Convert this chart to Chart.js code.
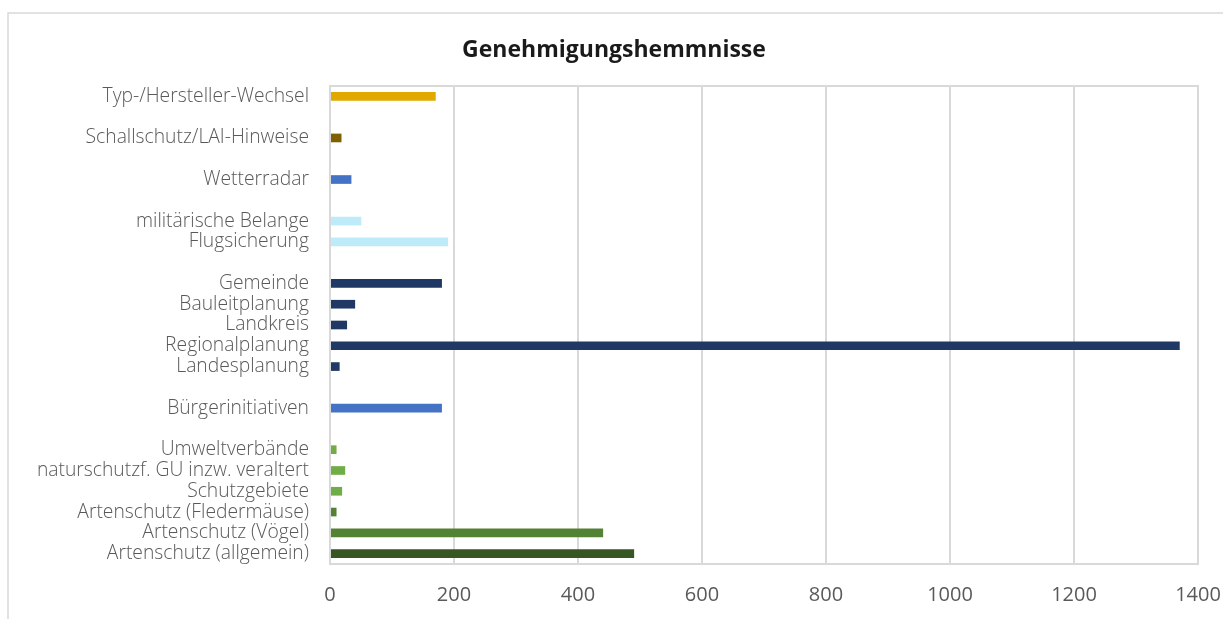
<!DOCTYPE html>
<html>
<head>
<meta charset="utf-8">
<script src="https://cdn.jsdelivr.net/npm/chart.js@4"></script>
<style>
    body { margin: 0; background: #fff; }
    canvas { display: block; }
</style>
</head>
<body>
<canvas id="hemmnisseChart" width="1223" height="619"></canvas>
<script>
// categories, top to bottom ('' = spacer row)
const categories = [
    'Typ-/Hersteller-Wechsel', '',
    'Schallschutz/LAI-Hinweise', '',
    'Wetterradar', '',
    'militärische Belange', 'Flugsicherung', '',
    'Gemeinde', 'Bauleitplanung', 'Landkreis', 'Regionalplanung', 'Landesplanung', '',
    'Bürgerinitiativen', '',
    'Umweltverbände', 'naturschutzf. GU inzw. veraltert', 'Schutzgebiete',
    'Artenschutz (Fledermäuse)', 'Artenschutz (Vögel)', 'Artenschutz (allgemein)'
];

const values = [
    170, null,
    18, null,
    34, null,
    50, 190, null,
    180, 40, 27, 1370, 15, null,
    180, null,
    10, 24, 19,
    10, 440, 490
];

const barColors = [
    '#E0A800', null,
    '#7F6000', null,
    '#4472C4', null,
    '#BDEBF9', '#BDEBF9', null,
    '#203864', '#203864', '#203864', '#203864', '#203864', null,
    '#4472C4', null,
    '#70AD47', '#70AD47', '#70AD47',
    '#548235', '#548235', '#375623'
];

const xTicks = [0, 200, 400, 600, 800, 1000, 1200, 1400];

const frame = {
    id: 'frame',
    beforeDraw(chart) {
        const ctx = chart.ctx;
        ctx.save();
        ctx.fillStyle = '#fff';
        ctx.fillRect(0, 0, chart.width, chart.height);
        ctx.strokeStyle = '#d9d9d9';
        ctx.lineWidth = 1.5;
        ctx.beginPath();
        ctx.moveTo(8, chart.height);
        ctx.lineTo(8, 13);
        ctx.lineTo(chart.width, 13);
        ctx.stroke();
        ctx.restore();
    },
    afterDatasetsDraw(chart) {
        const a = chart.chartArea;
        const ctx = chart.ctx;
        ctx.save();
        ctx.strokeStyle = '#d9d9d9';
        ctx.lineWidth = 2;
        ctx.strokeRect(a.left, a.top, a.right - a.left, a.bottom - a.top);
        ctx.restore();
    }
};

const ctx = document.getElementById('hemmnisseChart').getContext('2d');
new Chart(ctx, {
    type: 'bar',
    data: {
        labels: categories,
        datasets: [{
            data: values,
            backgroundColor: barColors,
            barThickness: 8
        }]
    },
    options: {
        indexAxis: 'y',
        responsive: false,
        animation: false,
        layout: { padding: { left: 30, right: 25, top: 0, bottom: 0 } },
        plugins: {
            legend: { display: false },
            tooltip: { enabled: false },
            title: {
                display: true,
                text: 'Genehmigungshemmnisse',
                color: '#1a1a1a',
                font: { family: 'Open Sans', size: 23, weight: 'bold' },
                padding: { top: 37, bottom: 21.4 }
            }
        },
        scales: {
            x: {
                min: 0,
                max: 1400,
                afterBuildTicks: scale => { scale.ticks = xTicks.map(v => ({ value: v })); },
                afterFit: scale => {
                    scale.height = 55;
                    scale.paddingLeft = 0;
                    scale.paddingRight = 0;
                },
                grid: { color: '#d9d9d9', lineWidth: 2, drawTicks: false },
                border: { display: false },
                ticks: {
                    color: '#595959',
                    padding: 19,
                    font: { family: 'Open Sans', size: 20 },
                    callback: value => String(value)
                }
            },
            y: {
                afterFit: scale => {
                    scale.width = 300;
                    scale.paddingTop = 0;
                    scale.paddingBottom = 0;
                },
                grid: { display: false, drawTicks: false },
                border: { display: false },
                ticks: {
                    autoSkip: false,
                    color: '#595959',
                    padding: 21,
                    font: { family: 'Open Sans', size: 19.3, weight: 300 }
                }
            }
        }
    },
    plugins: [frame]
});
</script>
</body>
</html>
